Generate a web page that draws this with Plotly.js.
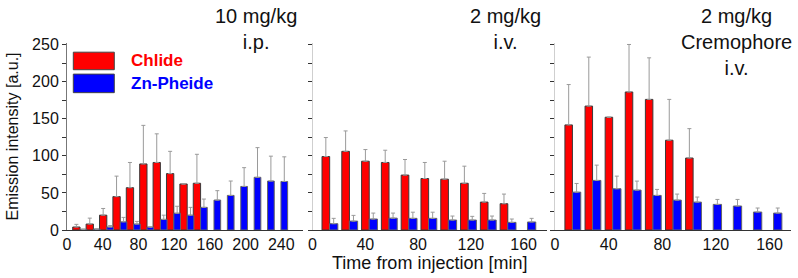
<!DOCTYPE html>
<html>
<head>
<meta charset="utf-8">
<script src="https://cdn.plot.ly/plotly-3.0.1.min.js"></script>
<style>html,body{margin:0;padding:0;background:#fff;}#chart{width:798px;height:278px;}</style>
</head>
<body>
<div id="chart"></div>
<script>
// ---- data ----
const panelTitles = ["10 mg/kg<br>i.p.", "2 mg/kg<br>i.v.", "2 mg/kg<br>Cremophore<br>i.v."];
const seriesNames = ["Chlide", "Zn-Pheide"];

// Panel 1: 10 mg/kg i.p.
const p1RedTime  = [15, 30, 45, 60, 75, 90, 105, 120, 135, 150];
const p1Red      = [4, 8, 20, 45, 57, 89, 91, 76, 62, 63];
const p1RedErr   = [3.6, 8, 9, 27.6, 34, 52, 38.6, 30, 0, 39];
const p1BlueTime = [15, 30, 45, 60, 75, 90, 105, 120, 135, 150, 165, 180, 195, 210, 225, 240];
const p1Blue     = [1, 1.3, 4, 11, 8, 4, 14.3, 22.6, 20, 30.5, 40.3, 46.6, 58.7, 71, 66, 65.4];
const p1BlueErr  = [0, 0, 2, 6, 3.6, 0, 5.7, 9.4, 10.5, 11.2, 12.7, 19.4, 25.3, 40, 33.5, 33.2];

// Panel 2: 2 mg/kg i.v.
const p2RedTime  = [15, 30, 45, 60, 75, 90, 105, 120, 135, 150];
const p2Red      = [99, 106, 92.7, 91, 74, 69.4, 68.5, 63, 37.6, 35.4];
const p2RedErr   = [25.6, 27.5, 15.7, 16.5, 21, 21.6, 24.2, 23, 11.7, 13];
const p2BlueTime = [15, 30, 45, 60, 75, 90, 105, 120, 135, 150, 165];
const p2Blue     = [8.5, 12, 14.8, 16, 15.7, 15.7, 13.4, 13.4, 13.4, 10.3, 10.8];
const p2BlueErr  = [7.2, 7.7, 8, 6.8, 8.3, 8.3, 5.4, 5, 5.4, 4.5, 4.9];

// Panel 3: 2 mg/kg Cremophore i.v.
const p3RedTime  = [15, 30, 45, 60, 75, 90, 105];
const p3Red      = [141.6, 167, 152, 186, 176, 121, 97];
const p3RedErr   = [54.4, 66, 0, 64, 56, 55, 39.6];
const p3BlueTime = [15, 30, 45, 60, 75, 90, 105, 120, 135, 150, 165];
const p3Blue     = [51, 66.8, 55.6, 53.8, 46.6, 40.3, 37.6, 34.5, 32.3, 24.2, 22.8];
const p3BlueErr  = [11.7, 20.6, 17, 12.1, 8.1, 8.1, 6.8, 6.7, 8.9, 5.4, 6.8];

const xTitle = "Time from injection [min]";
const yTitle = "Emission intensity [a.u.]";

// ---- styling / layout ----
const FONT = "Liberation Sans, Arial, Helvetica, sans-serif";
const RED = "#ff0000", BLUE = "#0000ff";
const W = 798, H = 278;
const ML = 67, MR = 7, MT = 42.5, MB = 48;
const PW = W - ML - MR, PH = H - MT - MB;
const px = v => (v - ML) / PW;          // pixel x -> paper x
const py = v => (H - MB - v) / PH;      // pixel y -> paper y

function errObj(arr, color) {
  return {type: "data", symmetric: false, array: arr, arrayminus: arr.map(() => 0),
          color: color, thickness: 1, width: 2, visible: true};
}
function barTrace(x, y, err, color, xa, ya, off, w, name, lineColor) {
  return {type: "bar", x: x, y: y, xaxis: xa, yaxis: ya, name: name,
          offset: off, width: w, showlegend: false,
          marker: {color: color, line: {color: lineColor, width: 1}},
          error_y: errObj(err, "#9a9a9a"), hoverinfo: "x+y"};
}

const data = [
  barTrace(p1RedTime, p1Red, p1RedErr, RED, "x", "y", -8.6, 8.2, seriesNames[0], "#3a3a3a"),
  barTrace(p1BlueTime, p1Blue, p1BlueErr, BLUE, "x", "y", -0.4, 7.5, seriesNames[1], "#666"),
  barTrace(p2RedTime, p2Red, p2RedErr, RED, "x2", "y2", -7.8, 5.8, seriesNames[0], "#3a3a3a"),
  barTrace(p2BlueTime, p2Blue, p2BlueErr, BLUE, "x2", "y2", -2.1, 6.3, seriesNames[1], "#666"),
  barTrace(p3RedTime, p3Red, p3RedErr, RED, "x3", "y3", -7.6, 5.6, seriesNames[0], "#3a3a3a"),
  barTrace(p3BlueTime, p3Blue, p3BlueErr, BLUE, "x3", "y3", -2.0, 6.2, seriesNames[1], "#666")
];

const tickFont = {family: FONT, size: 16, color: "#111"};
function xAx(domain, range, extra) {
  return Object.assign({domain: domain, range: range, dtick: 40, tick0: 0,
    showline: true, linecolor: "#333", linewidth: 1, ticks: "", showgrid: false,
    zeroline: false, tickfont: tickFont, fixedrange: true}, extra || {});
}
function yAx(anchor, showLabels, lineColor, extra) {
  return Object.assign({anchor: anchor, range: [0, 252], dtick: 50, tick0: 0,
    showline: true, linecolor: lineColor, linewidth: 1,
    ticks: "outside", ticklen: 4, tickcolor: "#333", tickwidth: 1,
    minor: {dtick: 25, ticks: "outside", ticklen: 4, tickcolor: "#333", tickwidth: 1, showgrid: false},
    showgrid: false, zeroline: false, showticklabels: showLabels,
    tickfont: tickFont, fixedrange: true}, extra || {});
}

const layout = {
  width: W, height: H,
  margin: {l: ML, r: MR, t: MT, b: MB, pad: 0},
  paper_bgcolor: "#fff", plot_bgcolor: "#fff",
  font: {family: FONT, color: "#111"},
  barmode: "overlay",
  showlegend: false,
  xaxis:  xAx([0, px(303)], [0, 264.3], {anchor: "y"}),
  xaxis2: xAx([px(312.5), px(547)], [0, 177.7], {anchor: "y2",
            title: {text: xTitle, font: {family: FONT, size: 18, color: "#111"}, standoff: 4}}),
  xaxis3: xAx([px(555), 1], [0, 176], {anchor: "y3"}),
  yaxis:  yAx("x", true, "#777", {title: {text: yTitle, font: {family: FONT, size: 16, color: "#111"}, standoff: 9}}),
  yaxis2: yAx("x2", false, "#cfcfcf", {matches: "y"}),
  yaxis3: yAx("x3", false, "#cfcfcf", {matches: "y"}),
  shapes: [
    {type: "rect", xref: "paper", yref: "paper", x0: px(73.3), x1: px(114.3), y0: py(69.3), y1: py(51.7),
     fillcolor: RED, line: {color: "#444", width: 1}},
    {type: "rect", xref: "paper", yref: "paper", x0: px(73.3), x1: px(114.3), y0: py(92.3), y1: py(73.7),
     fillcolor: BLUE, line: {color: "#444", width: 1}}
  ],
  annotations: [
    {xref: "paper", yref: "paper", x: px(129), y: py(60.5), xanchor: "left", yanchor: "middle",
     text: "<b>" + seriesNames[0] + "</b>", showarrow: false, font: {family: FONT, size: 17, color: RED}},
    {xref: "paper", yref: "paper", x: px(129), y: py(83), xanchor: "left", yanchor: "middle",
     text: "<b>" + seriesNames[1] + "</b>", showarrow: false, font: {family: FONT, size: 17, color: BLUE}},
    {xref: "paper", yref: "paper", x: px(255.5), y: py(2), xanchor: "center", yanchor: "top",
     text: panelTitles[0], showarrow: false, font: {family: FONT, size: 20, color: "#111"}},
    {xref: "paper", yref: "paper", x: px(505.5), y: py(2), xanchor: "center", yanchor: "top",
     text: panelTitles[1], showarrow: false, font: {family: FONT, size: 20, color: "#111"}},
    {xref: "paper", yref: "paper", x: px(736), y: py(2), xanchor: "center", yanchor: "top",
     text: panelTitles[2], showarrow: false, font: {family: FONT, size: 20, color: "#111"}}
  ]
};

Plotly.newPlot("chart", data, layout, {displayModeBar: false, staticPlot: true});
</script>
</body>
</html>
